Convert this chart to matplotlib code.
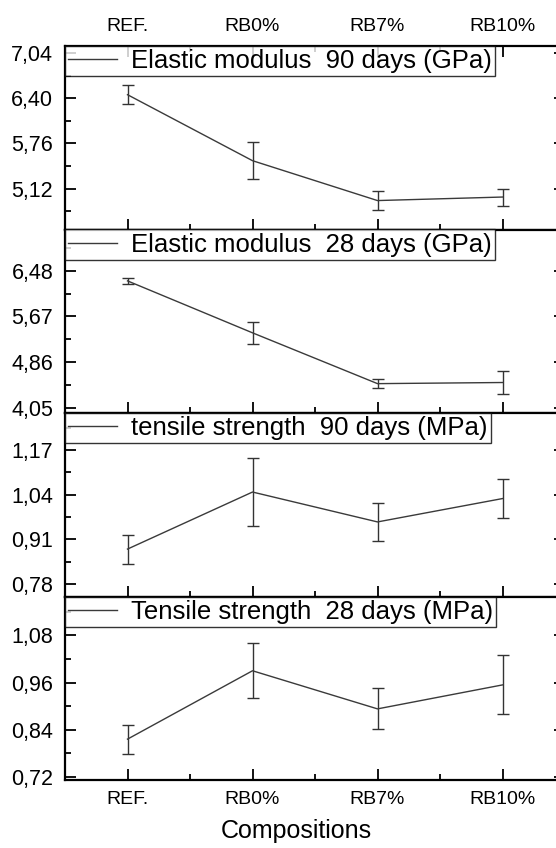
import numpy as np
import matplotlib.pyplot as plt
from matplotlib.ticker import FixedLocator, FuncFormatter

plt.rcParams['font.family'] = ['Liberation Sans', 'DejaVu Sans']

# |>- data -<|
compositions = ["REF.", "RB0%", "RB7%", "RB10%"]

em90 = [6.45, 5.515, 4.95, 5.00]
em90_err = [0.135, 0.265, 0.14, 0.12]
em28 = [6.30, 5.38, 4.48, 4.50]
em28_err = [0.05, 0.19, 0.085, 0.21]
ts90 = [0.882, 1.048, 0.961, 1.029]
ts90_err = [0.042, 0.099, 0.056, 0.058]
ts28 = [0.816, 0.990, 0.893, 0.954]
ts28_err = [0.037, 0.070, 0.052, 0.075]

labels = [
    "Elastic modulus  90 days (GPa)",
    "Elastic modulus  28 days (GPa)",
    "tensile strength  90 days (MPa)",
    "Tensile strength  28 days (MPa)",
]
yticks = [
    [5.12, 5.76, 6.40, 7.04],
    [4.05, 4.86, 5.67, 6.48],
    [0.78, 0.91, 1.04, 1.17],
    [0.72, 0.84, 0.96, 1.08],
]
ylims = [(4.54, 7.14), (3.96, 7.21), (0.744, 1.278), (0.712, 1.179)]
series = [(em90, em90_err), (em28, em28_err), (ts90, ts90_err), (ts28, ts28_err)]

# |>- figure -<|
W, H = 556, 848
fig = plt.figure(figsize=(W / 100, H / 100), dpi=100)

left, width = 65 / W, 500 / W
tops = [46, 229.5, 413, 596.5]
ph = 183.5

comma = FuncFormatter(lambda v, p: f"{v:.2f}".replace('.', ','))
x = np.arange(len(compositions))

for i, ((vals, errs), lab, yt, yl, top) in enumerate(zip(series, labels, yticks, ylims, tops)):
    ax = fig.add_axes([left, 1 - (top + ph) / H, width, ph / H])
    ax.errorbar(x, vals, yerr=errs, fmt='none', elinewidth=1.0,
                capsize=4, capthick=1.0, ecolor='#333333')
    ax.plot(x, vals, color='#3a3a3a', lw=1.0, label=lab)
    ax.set_xlim(-0.5, 3.5)
    ax.set_ylim(*yl)

    ax.yaxis.set_major_locator(FixedLocator(yt))
    step = yt[1] - yt[0]
    ax.yaxis.set_minor_locator(FixedLocator([v + step / 2 for v in [yt[0] - step] + yt]))
    ax.yaxis.set_major_formatter(comma)

    ax.xaxis.set_major_locator(FixedLocator(x))
    ax.xaxis.set_minor_locator(FixedLocator([0.5, 1.5, 2.5]))
    ax.set_xticklabels(compositions)

    for s in ax.spines.values():
        s.set_linewidth(1.6)

    ax.tick_params(which='both', direction='in', width=1.3,
                   left=True, right=True, bottom=True, top=(i == 0),
                   labelbottom=(i == 3), labeltop=(i == 0))
    ax.tick_params(which='major', length=8, pad=8)
    ax.tick_params(which='minor', length=4)
    ax.tick_params(axis='y', labelsize=15.5, pad=8.5)
    ax.tick_params(axis='x', labelsize=14)

    leg = ax.legend(loc='upper left', bbox_to_anchor=(0, 1), borderaxespad=0,
                    fontsize=18.5, frameon=True, fancybox=False, edgecolor='black',
                    handlelength=1.9, handletextpad=0.55, borderpad=0.12)
    leg.get_frame().set_linewidth(1.0)

    if i == 3:
        ax.set_xlabel("Compositions", fontsize=18)
        ax.xaxis.set_label_coords(0.462, -0.21)

fig.savefig("out.png", dpi=100)
